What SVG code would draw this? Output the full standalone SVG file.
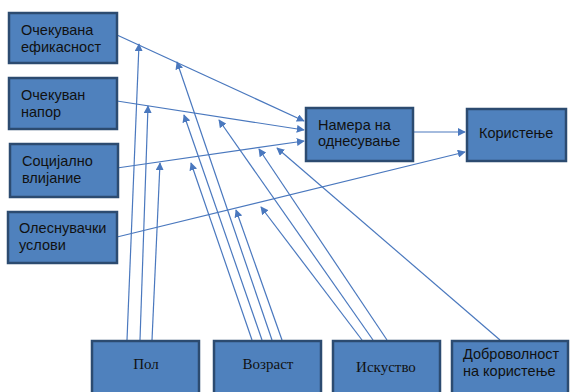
<svg xmlns="http://www.w3.org/2000/svg" width="570" height="392" viewBox="0 0 570 392">
<defs>
<style>
.box{fill:#4F81BD;stroke:#2C4B70;stroke-width:2.5}
.t{font-family:"Liberation Sans",Arial,sans-serif;font-size:14.5px;fill:#111}
.s{font-family:"Liberation Serif","Times New Roman",serif;font-size:15px;fill:#111}
.c line{stroke:#4A78BE;stroke-width:1.2;fill:none}
.a{marker-end:url(#ah)}
</style>
<marker id="ah" viewBox="0 0 10 10" refX="9" refY="5" markerWidth="8" markerHeight="8" markerUnits="userSpaceOnUse" orient="auto">
<path d="M0,0 L10,5 L0,10 z" fill="#4A78BE"/>
</marker>
</defs>
<rect width="570" height="392" fill="#ffffff"/>
<g class="c" id="connectors">
<line class="a" x1="117" y1="35" x2="304" y2="121"/>
<line class="a" x1="117" y1="101" x2="304" y2="130"/>
<line class="a" x1="117" y1="168" x2="304" y2="141"/>
<line class="a" x1="117" y1="237" x2="465" y2="152"/>
<line class="a" x1="413" y1="132" x2="465" y2="132"/>
<line class="a" x1="127" y1="340" x2="139" y2="44"/>
<line class="a" x1="140" y1="340" x2="148" y2="106"/>
<line class="a" x1="152" y1="340" x2="160" y2="163"/>
<line class="a" x1="252" y1="340" x2="191" y2="163"/>
<line class="a" x1="262" y1="340" x2="184" y2="115"/>
<line class="a" x1="272" y1="340" x2="177" y2="62"/>
<line class="a" x1="282" y1="340" x2="236" y2="210"/>
<line class="a" x1="362" y1="340" x2="261" y2="207"/>
<line class="a" x1="373" y1="340" x2="219" y2="120"/>
<line class="a" x1="387" y1="340" x2="259" y2="149"/>
<line class="a" x1="500" y1="340" x2="277" y2="148"/>
</g>
<g id="n1"><rect class="box" x="9" y="13" width="108" height="50"/><text class="t" x="21" y="35">Очекувана</text><text class="t" x="21" y="52">ефикасност</text></g>
<g id="n2"><rect class="box" x="9" y="78" width="108" height="51"/><text class="t" x="21" y="100">Очекуван</text><text class="t" x="21" y="117">напор</text></g>
<g id="n3"><rect class="box" x="10" y="144" width="108" height="53"/><text class="t" x="22" y="166">Социјално</text><text class="t" x="22" y="183">влијание</text></g>
<g id="n4"><rect class="box" x="8" y="212" width="109" height="51"/><text class="t" x="19" y="233">Олеснувачки</text><text class="t" x="19" y="250">услови</text></g>
<g id="n5"><rect class="box" x="306" y="108" width="107" height="53"/><text class="t" x="318" y="130">Намера на</text><text class="t" x="318" y="146">однесување</text></g>
<g id="n6"><rect class="box" x="467" y="109" width="99" height="52"/><text class="t" x="479" y="138">Користење</text></g>
<g id="n7"><rect class="box" x="92" y="341" width="107" height="60"/><text class="s" x="146" y="369" text-anchor="middle">Пол</text></g>
<g id="n8"><rect class="box" x="214" y="341" width="107" height="60"/><text class="s" x="268" y="369" text-anchor="middle">Возраст</text></g>
<g id="n9"><rect class="box" x="333" y="341" width="107" height="60"/><text class="s" x="386" y="372" text-anchor="middle">Искуство</text></g>
<g id="n10"><rect class="box" x="452" y="341" width="116" height="60"/><text class="t" x="463" y="359">Доброволност</text><text class="t" x="463" y="376">на користење</text></g>
</svg>
